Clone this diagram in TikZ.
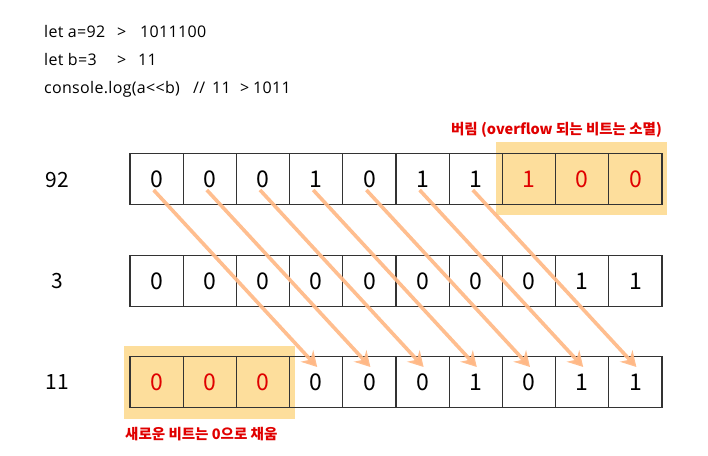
\documentclass[tikz,border=0pt]{standalone}
\usepackage{fontspec}
\setmainfont{Noto Sans CJK KR}
\newfontfamily\codefont[LetterSpace=2]{Open Sans}
\usetikzlibrary{arrows.meta,calc}
\definecolor{hl}{HTML}{FDDE9C}
\definecolor{arr}{HTML}{FFB886}
\definecolor{redtxt}{HTML}{E00000}
\definecolor{boxline}{HTML}{333333}
\tikzset{
  cell/.style={draw=boxline, line width=1.3pt, minimum width=53.2pt, minimum height=51.5pt, inner sep=0pt, font=\fontsize{23}{25}\selectfont},
  redcell/.style={cell, text=redtxt},
  codetxt/.style={anchor=base west, inner sep=0pt, font=\codefont\fontsize{16}{18}\selectfont},
  rowlbl/.style={inner sep=0pt, font=\fontsize{21}{24}\selectfont},
  note/.style={inner sep=0pt, text=redtxt, font=\fontsize{14.5}{16}\selectfont\bfseries},
  hlbox/.style={fill=hl, draw=none},
  shiftarrow/.style={draw=arr, draw opacity=0.92, line width=3.6pt, -{Stealth[length=15pt,width=17pt,inset=5pt]}}
}
\begin{document}
\begin{tikzpicture}[x=1pt,y=-1pt]
\useasboundingbox (0,0) rectangle (708,455);
% code lines
\node[codetxt] (c1a) at (44,37) {let a=92};
\node[codetxt] (c1b) at (117,37) {>};
\node[codetxt] (c1c) at (140,37) {1011100};
\node[codetxt] (c2a) at (44,65) {let b=3};
\node[codetxt] (c2b) at (117,65) {>};
\node[codetxt] (c2c) at (138,65) {11};
\node[codetxt] (c3a) at (44,93) {console.log(a{<}{<}b)};
\node[codetxt] (c3b) at (193,93) {//};
\node[codetxt] (c3c) at (212,93) {11};
\node[codetxt] (c3d) at (240,93) {>};
\node[codetxt] (c3e) at (253,93) {1011};
% highlights
\fill[hlbox] (496,142) rectangle (666.5,215);
\fill[hlbox] (124,346) rectangle (295,419);
% row labels
\node[rowlbl] (l1) at (57,180) {92};
\node[rowlbl] (l2) at (57,281) {3};
\node[rowlbl] (l3) at (57,382) {11};
% rows
\foreach \v [count=\i from 0] in {0,0,0,1,0,1,1,1,0,0} {
  \ifnum\i>6
    \node[redcell] (a\i) at ({130+53.2*(\i+0.5)},179) {\v};
  \else
    \node[cell] (a\i) at ({130+53.2*(\i+0.5)},179) {\v};
  \fi
}
\foreach \v [count=\i from 0] in {0,0,0,0,0,0,0,0,1,1} {
  \node[cell] (b\i) at ({130+53.2*(\i+0.5)},281) {\v};
}
\foreach \v [count=\i from 0] in {0,0,0,0,0,0,1,0,1,1} {
  \ifnum\i<3
    \node[redcell] (c\i) at ({130+53.2*(\i+0.5)},382) {\v};
  \else
    \node[cell] (c\i) at ({130+53.2*(\i+0.5)},382) {\v};
  \fi
}
% notes
\node[note] (n1) at (556.5,130) {버림 (overflow 되는 비트는 소멸)};
\node[note, anchor=west] (n2) at (125,434) {새로운 비트는 0으로 채움};
% arrows
\foreach \i in {0,...,6} {
  \pgfmathtruncatemacro{\j}{\i+3}
  \draw[shiftarrow] ($(a\i.center)+(-3,11)$) -- ($(c\j.center)+(1,-15)$);
}
\end{tikzpicture}
\end{document}
